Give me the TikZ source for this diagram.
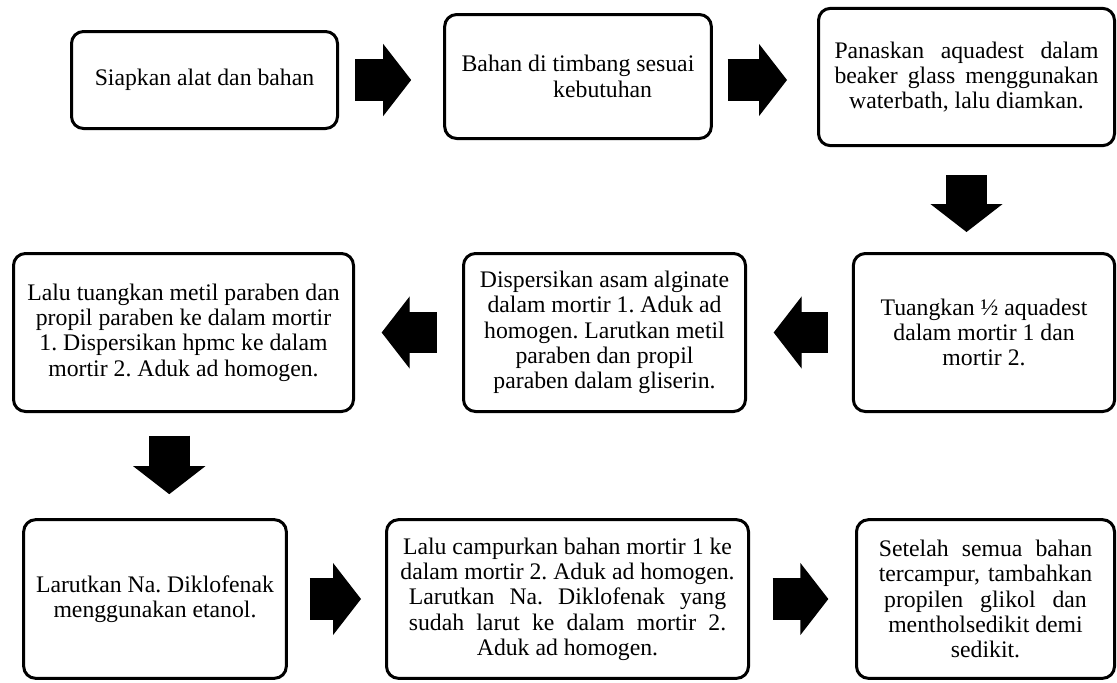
\documentclass[tikz,border=0pt]{standalone}
\usepackage{fontspec}
\setmainfont{Liberation Serif}
\usetikzlibrary{arrows.meta,calc}
\newcommand{\sline}[2]{\makebox[#1][s]{#2}}
\frenchspacing
\begin{document}
\begin{tikzpicture}[x=0.75pt, y=-0.75pt,
	box/.style={draw, line width=2.25pt, rounded corners=9pt, align=center, inner sep=3pt, font=\fontsize{17.8}{19}\selectfont},
	fat/.style={line width=31pt, -{Triangle[length=21pt, width=54pt, line width=1pt]}}]
		\useasboundingbox (0,0) rectangle (1117,682);
		\node[box, minimum width=199.5pt, minimum height=72.75pt] (b1) at (204.5,80) {Siapkan alat dan bahan};
		\node[box, minimum width=200pt, minimum height=93pt] (b2) at (578,76.5) {Bahan di timbang sesuai\\\hspace*{37pt}kebutuhan};
		\node[box, minimum width=222pt, minimum height=103pt] (b3) at (966.5,77) {\sline{198pt}{Panaskan aquadest dalam}\\\sline{198pt}{beaker glass menggunakan}\\waterbath, lalu diamkan.};
		\node[box, minimum width=196pt, minimum height=118.5pt] (b4) at (984,332.5) {Tuangkan ½ aquadest\\dalam mortir 1 dan\\mortir 2.};
		\node[box, minimum width=211.5pt, minimum height=118.5pt] (b5) at (604.5,332.5) {Dispersikan asam alginate\\dalam mortir 1. Aduk ad\\homogen. Larutkan metil\\paraben dan propil\\paraben dalam gliserin.};
		\node[box, minimum width=255pt, minimum height=118.5pt] (b6) at (183.5,332.5) {Lalu tuangkan metil paraben dan\\propil paraben ke dalam mortir\\1. Dispersikan hpmc ke dalam\\mortir 2. Aduk ad homogen.};
		\node[box, minimum width=197pt, minimum height=119pt] (b7) at (155,599) {Larutkan Na. Diklofenak\\menggunakan etanol.};
		\node[box, minimum width=271.5pt, minimum height=119pt] (b8) at (567.5,599) {Lalu campurkan bahan mortir 1 ke\\dalam mortir 2. Aduk ad homogen.\\\sline{238pt}{Larutkan Na. Diklofenak yang}\\\sline{238pt}{sudah larut ke dalam mortir 2.}\\Aduk ad homogen.};
		\node[box, minimum width=193.5pt, minimum height=119pt] (b9) at (985.5,599) {\sline{160pt}{Setelah semua bahan}\\\sline{160pt}{tercampur, tambahkan}\\\sline{152pt}{propilen glikol dan}\\mentholsedikit demi\\sedikit.};
		\coordinate (m) at ($(b6.south)!0.5!(b7.north)$);
		\draw[fat, shorten <=12pt, shorten >=24pt] (b1.east) -- (b1.east -| b2.west);
		\draw[fat, shorten <=11pt, shorten >=22.5pt] (b2.east |- b1.east) -- (b3.west |- b1.east);
		\draw[fat, shorten <=21pt, shorten >=15pt] (b3.south) -- (b3.south |- b4.north);
		\draw[fat, shorten <=18pt, shorten >=20pt] (b4.west) -- (b4.west -| b5.east);
		\draw[fat, shorten <=19pt, shorten >=20pt] (b5.west) -- (b5.west -| b6.east);
		\draw[fat, shorten <=17pt, shorten >=18pt] (m |- b6.south) -- (m |- b7.north);
		\draw[fat, shorten <=16.5pt, shorten >=18pt] (b7.east) -- (b7.east -| b8.west);
		\draw[fat, shorten <=17pt, shorten >=20pt] (b8.east) -- (b8.east -| b9.west);
\end{tikzpicture}
\end{document}
